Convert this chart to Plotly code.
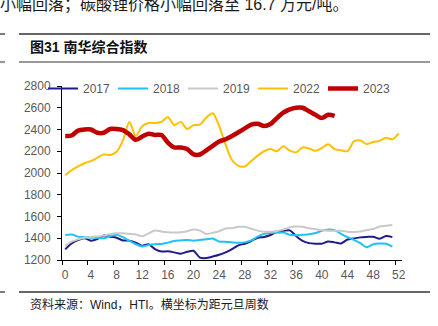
import plotly.graph_objects as go

# Weeks since New Year's Day
weeks_full = list(range(0, 53))

# Nanhua Composite Index, weekly
idx_2017 = [1298, 1353, 1384, 1400, 1378, 1392, 1425, 1414, 1405, 1380, 1378, 1360, 1330,
            1345, 1300, 1278, 1280, 1270, 1258, 1275, 1285, 1222, 1218, 1232, 1248, 1270,
            1300, 1335, 1350, 1375, 1405, 1412, 1430, 1460, 1468, 1472, 1420, 1375, 1355,
            1350, 1350, 1370, 1362, 1352, 1388, 1398, 1408, 1412, 1414, 1395, 1420, 1410]
idx_2018 = [1430, 1435, 1415, 1410, 1405, 1405, 1400, 1418, 1432, 1410, 1375, 1345, 1325,
            1338, 1345, 1348, 1360, 1375, 1380, 1384, 1378, 1384, 1390, 1398, 1370, 1368,
            1362, 1358, 1362, 1380, 1415, 1440, 1448, 1450, 1452, 1432, 1428, 1432, 1436,
            1448, 1468, 1480, 1475, 1440, 1410, 1385, 1355, 1318, 1345, 1352, 1350, 1323]
idx_2019 = [1330, 1368, 1390, 1405, 1412, 1415, 1424, 1438, 1445, 1445, 1440, 1435, 1418,
            1445, 1472, 1462, 1455, 1452, 1455, 1465, 1480, 1470, 1440, 1450, 1465, 1490,
            1492, 1505, 1505, 1488, 1470, 1460, 1460, 1465, 1480, 1500, 1508, 1505, 1492,
            1482, 1475, 1470, 1470, 1468, 1460, 1458, 1462, 1475, 1485, 1508, 1515, 1522]
idx_2022 = [1980, 2025, 2060, 2090, 2110, 2140, 2170, 2165, 2195, 2300, 2470, 2340, 2430,
            2460, 2460, 2470, 2515, 2440, 2470, 2405, 2440, 2445, 2510, 2550, 2430, 2260,
            2120, 2065, 2060, 2110, 2160, 2200, 2220, 2200, 2245, 2205, 2190, 2235, 2225,
            2205, 2230, 2265, 2220, 2210, 2200, 2290, 2300, 2265, 2285, 2295, 2325, 2310, 2365]
idx_2023 = [2340, 2345, 2390, 2400, 2400, 2370, 2370, 2405, 2405, 2395, 2355, 2305, 2335,
            2360, 2350, 2350, 2280, 2235, 2235, 2220, 2172, 2170, 2208, 2250, 2290, 2310,
            2340, 2375, 2410, 2445, 2452, 2432, 2450, 2505, 2555, 2585, 2600, 2600, 2568,
            2535, 2505, 2535, 2525]

x_ticks = list(range(0, 53, 4))
y_ticks = list(range(1200, 2801, 200))

series = [
    ("2017", idx_2017, "#1F1B8C", 2),
    ("2018", idx_2018, "#1EC3F2", 2),
    ("2019", idx_2019, "#C9C9C9", 2),
    ("2022", idx_2022, "#FFC000", 2),
    ("2023", idx_2023, "#C00000", 4.5),
]

LATIN = "Liberation Sans, Arial, Noto Sans CJK SC, sans-serif"
CJK = "Liberation Sans, Noto Sans CJK SC, sans-serif"
GREY_TXT = "#595959"

# plot area in pixels
L, R, T, B = 62, 402, 86, 260
PW, PH = R - L, B - T

fig = go.Figure()
for name, vals, color, width in series:
    fig.add_trace(go.Scatter(
        x=weeks_full[:len(vals)], y=vals, name=name, mode="lines",
        line=dict(color=color, width=width, shape="spline", smoothing=0.8),
    ))

fig.update_layout(
    width=438, height=326,
    margin=dict(l=L, r=438 - R, t=T, b=326 - B, autoexpand=False),
    paper_bgcolor="white", plot_bgcolor="white",
    font=dict(family=LATIN, size=12, color=GREY_TXT),
    showlegend=True,
    legend=dict(
        orientation="h",
        x=(43 - L) / PW, y=1 + (T - 74) / PH, xanchor="left", yanchor="top",
        bgcolor="rgba(0,0,0,0)", font=dict(size=12, color=GREY_TXT),
        itemwidth=30, entrywidth=25, entrywidthmode="pixels",
        tracegroupgap=0,
    ),
    xaxis=dict(
        range=[-0.5, 52.5], tickvals=x_ticks, ticks="",
        showline=True, linecolor="black", linewidth=1,
        showgrid=False, zeroline=False, ticklabelstandoff=4,
        tickfont=dict(size=12, color=GREY_TXT),
        minor=dict(ticks="outside", tick0=-0.5, dtick=4, ticklen=4,
                   tickcolor="black", showgrid=False),
    ),
    yaxis=dict(
        range=[1200, 2800], tickvals=y_ticks, ticks="outside", ticklen=4,
        tickcolor="black", showline=True, linecolor="black", linewidth=1,
        showgrid=False, zeroline=False, ticklabelstandoff=4,
        tickfont=dict(size=12, color=GREY_TXT),
    ),
)

def px_x(x):
    return (x - L) / PW

def px_y(y):
    return (B - y) / PH

# page furniture: running text above, figure caption and rules, source note
fig.add_annotation(text="小幅回落；碳酸锂价格小幅回落至 16.7 万元/吨。",
                   xref="paper", yref="paper", x=px_x(-2), y=px_y(5),
                   xanchor="left", yanchor="middle", showarrow=False,
                   font=dict(family=CJK, size=16, color="#1a1a1a"))
fig.add_annotation(text="<b>图31 南华综合指数</b>",
                   xref="paper", yref="paper", x=px_x(28), y=px_y(47),
                   xanchor="left", yanchor="middle", showarrow=False,
                   font=dict(family=CJK, size=14, color="#111111"))
fig.add_annotation(text="资料来源：Wind，HTI。横坐标为距元旦周数",
                   xref="paper", yref="paper", x=px_x(28), y=px_y(304),
                   xanchor="left", yanchor="middle", showarrow=False,
                   font=dict(family=CJK, size=12, color="#1a1a1a"))

def hline(y, x0, x1, color, w):
    fig.add_shape(type="line", xref="paper", yref="paper",
                  x0=px_x(x0), x1=px_x(x1), y0=px_y(y), y1=px_y(y),
                  line=dict(color=color, width=w))

hline(34, 19, 430, "#333333", 1.3)
hline(34, 0, 5, "#333333", 1.3)
hline(62, 19, 430, "#9A9A9A", 2.2)
hline(62, 0, 5, "#9A9A9A", 2.2)
hline(292, 19, 430, "#333333", 1.3)
hline(292, 0, 5, "#333333", 1.3)

fig.write_html("out.html")
